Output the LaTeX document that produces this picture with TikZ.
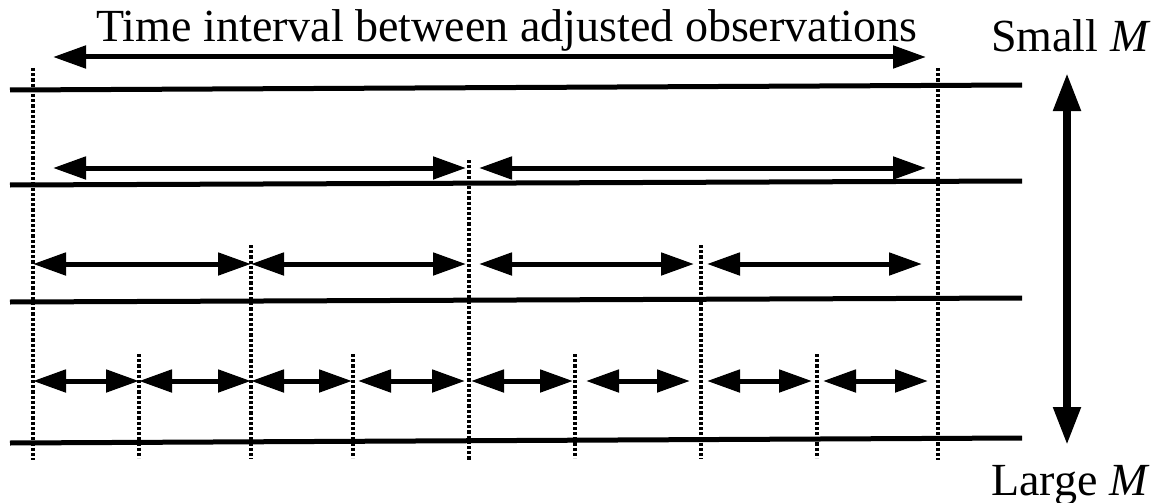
\documentclass[tikz,border=0pt]{standalone}
\usepackage{fontspec}
\setmainfont{Liberation Serif}
\usetikzlibrary{arrows.meta}
\tikzset{
  tl/.style={line width=5pt},
  dots/.style={line width=4pt,dash pattern=on 3.2pt off 2pt},
  dbl/.style={line width=5pt,{Triangle[length=33pt,width=22pt]}-{Triangle[length=33pt,width=22pt]}},
  big/.style={line width=8pt,{Triangle[length=38pt,width=26pt]}-{Triangle[length=38pt,width=26pt]}},
  lbl/.style={inner sep=0pt,font=\fontsize{46}{50}\selectfont}
}
\begin{document}
\begin{tikzpicture}[x=1pt,y=-1pt]
\useasboundingbox (0,0) rectangle (1157,503);
% time lines
\coordinate (l1a) at (10,90);  \coordinate (l1b) at (1022,85);
\coordinate (l2a) at (10,185); \coordinate (l2b) at (1022,181);
\coordinate (l3a) at (10,302); \coordinate (l3b) at (1022,298);
\coordinate (l4a) at (10,443); \coordinate (l4b) at (1022,438);
\draw[tl] (l1a) -- (l1b);
\draw[tl] (l2a) -- (l2b);
\draw[tl] (l3a) -- (l3b);
\draw[tl] (l4a) -- (l4b);
% dotted verticals
\foreach \n/\x/\ya/\yb in {d1/33/68/460, d2/139/354/458, d3/251/245/459, d4/353/354/458,
  d5/469/160/460, d6/575/354/458, d7/701/245/459, d8/817/354/458, d9/938/68/460}{
  \coordinate (\n a) at (\x,\ya);
  \coordinate (\n b) at (\x,\yb);
  \draw[dots] (\n a) -- (\n b);
}
% level 1
\coordinate (a1s) at (53,57); \coordinate (a1e) at (926,57);
\draw[dbl] (a1s) -- (a1e);
% level 2
\foreach \n/\xa/\xb in {b1/53/466, b2/479/926}{
  \coordinate (\n s) at (\xa,168); \coordinate (\n e) at (\xb,168);
  \draw[dbl] (\n s) -- (\n e);
}
% level 3
\foreach \n/\xa/\xb in {c1/33/251, c2/251/466, c3/479/694, c4/707/922}{
  \coordinate (\n s) at (\xa,264); \coordinate (\n e) at (\xb,264);
  \draw[dbl] (\n s) -- (\n e);
}
% level 4
\foreach \n/\xa/\xb in {e1/33/139, e2/139/251, e3/251/352, e4/358/465,
  e5/471/573, e6/586/690, e7/707/812, e8/823/928}{
  \coordinate (\n s) at (\xa,381); \coordinate (\n e) at (\xb,381);
  \draw[dbl] (\n s) -- (\n e);
}
% labels
\node[lbl,anchor=base] (title) at (507,42) {Time interval between adjusted observations};
\node[lbl,anchor=base west] (small) at (991,52) {Small \textit{M}};
\node[lbl,anchor=base west] (large) at (991,495) {Large \textit{M}};
% M arrow
\coordinate (mt) at (1067,73); \coordinate (mb) at (1067,445);
\draw[big] (mt) -- (mb);
\end{tikzpicture}
\end{document}
